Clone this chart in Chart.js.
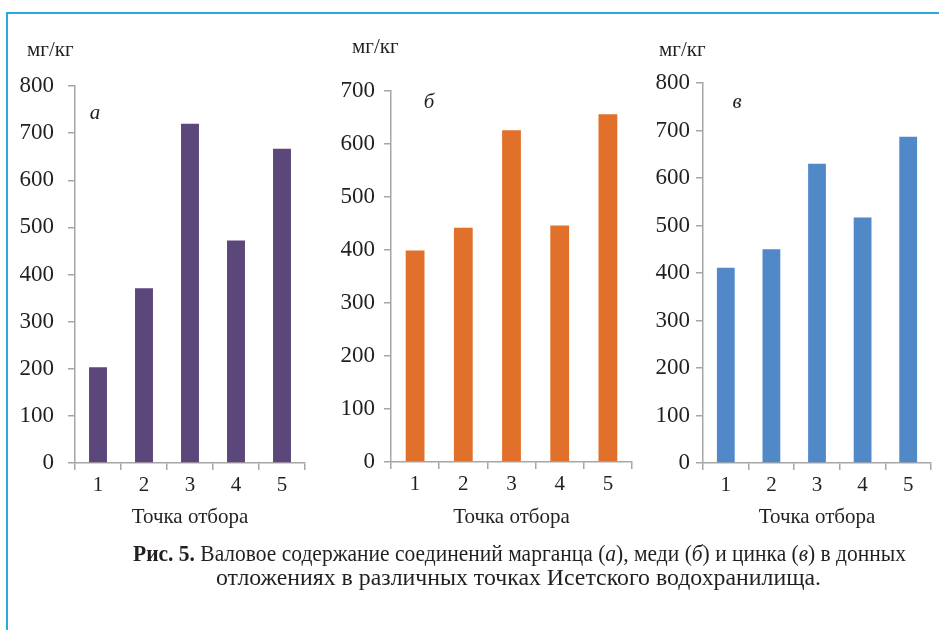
<!DOCTYPE html>
<html>
<head>
<meta charset="utf-8">
<title>Валовое содержание соединений марганца, меди и цинка</title>
<script src="https://cdn.jsdelivr.net/npm/chart.js@4/dist/chart.umd.min.js"></script>
<style>
  html, body { margin: 0; padding: 0; background: #fff; }
  body { width: 939px; height: 630px; position: relative; overflow: hidden; }
  .frame-top { position: absolute; left: 6px; top: 12px; width: 933px; height: 2px; background: #2aa9e0; }
  .frame-left { position: absolute; left: 6px; top: 12px; width: 2px; height: 618px; background: #2aa9e0; }
  .box { position: absolute; }
</style>
</head>
<body>
<div class="frame-top"></div>
<div class="frame-left"></div>

<div class="box" style="left:0px; top:20px;"><canvas id="chartMn" width="312" height="510"></canvas></div>
<div class="box" style="left:320px; top:20px;"><canvas id="chartCu" width="316" height="510"></canvas></div>
<div class="box" style="left:620px; top:20px;"><canvas id="chartZn" width="319" height="510"></canvas></div>
<div class="box" style="left:0px; top:535px;"><canvas id="caption" width="939" height="70"></canvas></div>

<script>
// Sampling points
const categories = ['1', '2', '3', '4', '5'];

// Gross content, mg/kg
const manganese = [203, 371, 720, 472, 667];
const copper    = [399, 442, 626, 446, 656];
const zinc      = [411, 450, 630, 517, 687];

const unitLabel = 'мг/кг';
const xTitle = 'Точка отбора';
const panelLetters = ['а', 'б', 'в'];

// Figure caption: line 1 is split into runs of different style
const captionLine1 = [
  ['bold', 'Рис. 5.'],
  ['normal', ' Валовое содержание соединений марганца ('],
  ['italic', 'а'],
  ['normal', '), меди ('],
  ['italic', 'б'],
  ['normal', ') и цинка ('],
  ['italic', 'в'],
  ['normal', ') в донных']
];
const captionLine2 = [
  ['normal', 'отложениях в различных точках Исетского водохранилища.']
];

const AXIS_GREY = '#a6a6a6';
const TEXT = '#231f20';
const SERIF = "'Liberation Serif', 'Times New Roman', Tinos, serif";

// Unit label above the value axis and the panel letter inside the plot
const panelText = {
  id: 'panelText',
  afterDraw(chart, args, o) {
    const ctx = chart.ctx;
    ctx.save();
    ctx.fillStyle = TEXT;
    ctx.textBaseline = 'middle';
    ctx.textAlign = 'left';
    ctx.font = '21px ' + SERIF;
    ctx.fillText(o.unit, o.unitX, o.unitY);
    ctx.textAlign = 'center';
    ctx.font = 'italic 21px ' + SERIF;
    ctx.fillText(o.letter, o.letterX, o.letterY);
    ctx.restore();
  }
};

function makeBarChart(id, values, color, opt) {
  return new Chart(document.getElementById(id), {
    type: 'bar',
    data: {
      labels: categories,
      datasets: [{
        data: values,
        backgroundColor: color,
        borderWidth: 0,
        barPercentage: 0.78,
        categoryPercentage: 0.5
      }]
    },
    plugins: [panelText],
    options: {
      responsive: false,
      animation: false,
      events: [],
      layout: { padding: { top: opt.padTop, right: opt.padRight, bottom: 0, left: 0 } },
      plugins: {
        legend: { display: false },
        tooltip: { enabled: false },
        panelText: {
          unit: unitLabel, unitX: opt.unitX, unitY: opt.unitY,
          letter: opt.letter, letterX: opt.letterX, letterY: opt.letterY
        }
      },
      scales: {
        y: {
          min: 0,
          max: opt.max,
          afterFit: s => { s.width = opt.yWidth; },
          ticks: {
            stepSize: 100,
            padding: opt.yPad,
            color: TEXT,
            font: { family: SERIF, size: 23 }
          },
          grid: { drawOnChartArea: false, drawTicks: true, tickLength: 7, color: AXIS_GREY, lineWidth: 1.5 },
          border: { display: true, color: AXIS_GREY, width: 1.5 }
        },
        x: {
          offset: true,
          afterFit: s => { s.height = opt.xHeight; },
          ticks: {
            padding: 3,
            color: TEXT,
            font: { family: SERIF, size: 21 }
          },
          grid: { offset: true, drawOnChartArea: false, drawTicks: true, tickLength: 7, color: AXIS_GREY, lineWidth: 1.5 },
          border: { display: true, color: AXIS_GREY, width: 1.5 },
          title: {
            display: true,
            text: xTitle,
            color: TEXT,
            font: { family: SERIF, size: 21 },
            padding: { top: 0, bottom: 0 }
          }
        }
      }
    }
  });
}

// Caption is set in a condensed serif: each line is fitted to its measure
function drawCaption() {
  const ctx = document.getElementById('caption').getContext('2d');
  const size = 23;
  const fontFor = s => (s === 'bold' ? 'bold ' : s === 'italic' ? 'italic ' : '') + size + 'px ' + SERIF;
  const widthOf = runs => runs.reduce((w, [s, t]) => { ctx.font = fontFor(s); return w + ctx.measureText(t).width; }, 0);
  function line(runs, centerX, y, targetW) {
    const k = targetW / widthOf(runs);
    ctx.save();
    ctx.translate(centerX - targetW / 2, y);
    ctx.scale(k, 1);
    ctx.fillStyle = TEXT;
    ctx.textBaseline = 'middle';
    let x = 0;
    runs.forEach(([s, t]) => {
      ctx.font = fontFor(s);
      ctx.fillText(t, x, 0);
      x += ctx.measureText(t).width;
    });
    ctx.restore();
  }
  line(captionLine1, 519.5, 20, 773);
  line(captionLine2, 518.5, 44, 605);
}

function drawAll() {
  makeBarChart('chartMn', manganese, '#5b4779', {
    max: 800, yWidth: 75, yPad: 14, padTop: 66, padRight: 7, xHeight: 67,
    letter: panelLetters[0], unitX: 27, unitY: 30, letterX: 95, letterY: 93
  });
  makeBarChart('chartCu', copper, '#e1702a', {
    max: 700, yWidth: 71, yPad: 9, padTop: 71, padRight: 4, xHeight: 68,
    letter: panelLetters[1], unitX: 32, unitY: 27, letterX: 109, letterY: 82
  });
  makeBarChart('chartZn', zinc, '#5088c8', {
    max: 800, yWidth: 83, yPad: 6, padTop: 63, padRight: 8, xHeight: 67,
    letter: panelLetters[2], unitX: 39, unitY: 30, letterX: 117, letterY: 82
  });
  drawCaption();
}

const faces = ["21px 'Liberation Serif'", "italic 21px 'Liberation Serif'", "bold 21px 'Liberation Serif'"];
Promise.all(faces.map(f => document.fonts.load(f, 'Точка 0123456789')))
  .catch(() => {})
  .then(drawAll);
</script>
</body>
</html>
